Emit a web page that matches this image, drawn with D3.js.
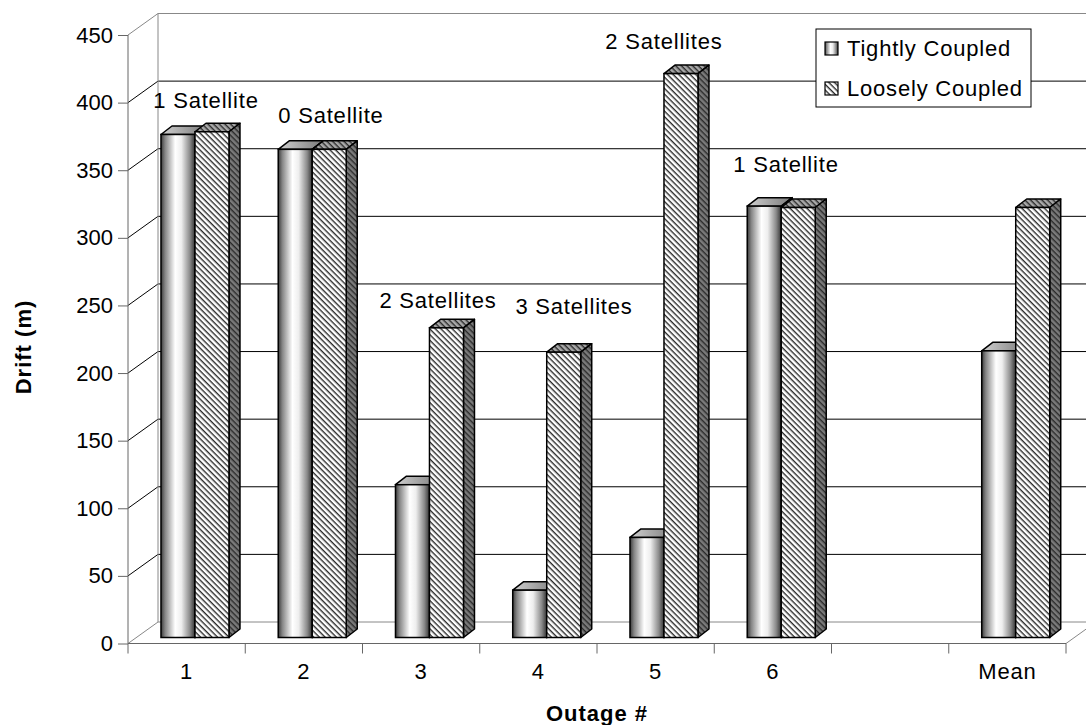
<!DOCTYPE html>
<html>
<head>
<meta charset="utf-8">
<script src="https://cdn.jsdelivr.net/npm/d3@7"></script>
<style>
  body { margin: 0; background: #fff; }
  text { font-family: "Liberation Sans", Arial, sans-serif; fill: #000; }
</style>
</head>
<body>
<svg id="chart" width="1086" height="725"></svg>
<script>
// data
const categories = ["1", "2", "3", "4", "5", "6", "", "Mean"];
const tightly = [372, 361, 113, 35, 74, 319, null, 212];
const loosely = [374, 361, 229, 211, 417, 318, null, 318];
const seriesNames = ["Tightly Coupled", "Loosely Coupled"];
const yTicks = [0, 50, 100, 150, 200, 250, 300, 350, 400, 450];

// satellite notes: text, position in category units, height in metres
const noteText = ["1 Satellite", "0 Satellite", "2 Satellites", "3 Satellites", "2 Satellites", "1 Satellite"];
const noteAt = [0.665, 1.731, 2.644, 3.804, 4.571, 5.612];
const noteLevel = [396, 385, 248, 244, 440, 349];

const svg = d3.select("#chart");
const W = 1086, H = 725;

const x = d3.scaleBand().domain(d3.range(categories.length)).range([128, 1066]).padding(0);
const y = d3.scaleLinear().domain([0, 450]).range([643.5, 35]);
const xPos = d3.scaleLinear().domain([0, categories.length]).range([128, 1066]);

// 3D offsets
const wall = { dx: 30, dy: -21.5 };   // back wall depth
const front = { dx: 8, dy: -6 };      // bar front face depth
const depth = { dx: 11, dy: -8.5 };   // bar thickness

const defs = svg.append("defs");

// cylinder-like shading for the tightly coupled bars
const grad = defs.append("linearGradient").attr("id", "tight").attr("x1", 0).attr("x2", 1).attr("y1", 0).attr("y2", 0);
[[0, "#3a3a3a"], [0.12, "#858585"], [0.42, "#ffffff"], [0.6, "#eeeeee"], [0.85, "#8a8a8a"], [1, "#353535"]]
  .forEach(([o, c]) => grad.append("stop").attr("offset", o).attr("stop-color", c));
const gradTop = defs.append("linearGradient").attr("id", "tightTop").attr("x1", 0).attr("x2", 1);
[[0, "#d0d0d0"], [1, "#7a7a7a"]].forEach(([o, c]) => gradTop.append("stop").attr("offset", o).attr("stop-color", c));

// diagonal hatch for the loosely coupled bars
function hatch(id, bg) {
  const p = defs.append("pattern").attr("id", id)
    .attr("patternUnits", "userSpaceOnUse").attr("width", 4).attr("height", 4)
    .attr("patternTransform", "rotate(45)");
  p.append("rect").attr("width", 4).attr("height", 4).attr("fill", bg);
  p.append("rect").attr("x", 0).attr("y", 0).attr("width", 4).attr("height", 1.4).attr("fill", "#2a2a2a");
}
hatch("hatchFront", "#ffffff");
hatch("hatchTop", "#a8a8a8");
hatch("hatchSide", "#7a7a7a");

svg.append("rect").attr("width", W).attr("height", H).attr("fill", "#fff");

const g = svg.append("g");

// walls: gridlines on the back wall and the side wall
yTicks.forEach(t => {
  const edge = t === 0 || t === 450;
  const col = edge ? "#888" : "#000";
  g.append("line")
    .attr("x1", 128 + wall.dx).attr("x2", 1066 + wall.dx)
    .attr("y1", y(t) + wall.dy).attr("y2", y(t) + wall.dy)
    .attr("stroke", col).attr("stroke-width", 1);
  g.append("line")
    .attr("x1", 128).attr("x2", 128 + wall.dx)
    .attr("y1", y(t)).attr("y2", y(t) + wall.dy)
    .attr("stroke", col).attr("stroke-width", 1);
});
g.append("line")
  .attr("x1", 128 + wall.dx).attr("x2", 128 + wall.dx)
  .attr("y1", y(450) + wall.dy).attr("y2", y(0) + wall.dy)
  .attr("stroke", "#888");
// floor right edge
g.append("line")
  .attr("x1", 1066).attr("x2", 1066 + wall.dx)
  .attr("y1", y(0)).attr("y2", y(0) + wall.dy)
  .attr("stroke", "#888");

// bars
const series = [tightly, loosely];
const fills = [
  { front: "url(#tight)", top: "url(#tightTop)", side: "#555" },
  { front: "url(#hatchFront)", top: "url(#hatchTop)", side: "url(#hatchSide)" }
];
const bw = x.bandwidth();
const barW = bw * 0.29;
const barBase = y(0) + front.dy;

categories.forEach((c, i) => {
  series.forEach((vals, s) => {
    const v = vals[i];
    if (v == null) return;
    const fx = x(i) + bw * 0.213 + s * barW + front.dx;
    const top = y(v) + front.dy;
    const bar = g.append("g");
    bar.append("polygon")
      .attr("points", [[fx, top], [fx + depth.dx, top + depth.dy], [fx + barW + depth.dx, top + depth.dy], [fx + barW, top]].join(" "))
      .attr("fill", fills[s].top).attr("stroke", "#000").attr("stroke-width", 1.5).attr("stroke-linejoin", "round");
    bar.append("polygon")
      .attr("points", [[fx + barW, top], [fx + barW + depth.dx, top + depth.dy], [fx + barW + depth.dx, barBase + depth.dy], [fx + barW, barBase]].join(" "))
      .attr("fill", fills[s].side).attr("stroke", "#000").attr("stroke-width", 1.5).attr("stroke-linejoin", "round");
    bar.append("rect")
      .attr("x", fx).attr("y", top).attr("width", barW).attr("height", barBase - top)
      .attr("fill", fills[s].front).attr("stroke", "#000").attr("stroke-width", 1.5);
  });
});

// axes
const yAxis = g.append("g")
  .attr("transform", "translate(128,0)")
  .call(d3.axisLeft(y).tickValues(yTicks).tickSize(10).tickPadding(5));
yAxis.select(".domain").attr("stroke", "#666").attr("d", `M0,${y(450)}V${y(0)}`);
yAxis.selectAll(".tick line").attr("stroke", "#666");
yAxis.selectAll(".tick text").attr("font-size", 22).attr("font-family", "Liberation Sans, Arial, sans-serif");

const xAxis = g.append("g")
  .attr("transform", `translate(0,${y(0)})`)
  .call(d3.axisBottom(x).tickSize(0).tickPadding(20).tickFormat(i => categories[i]));
xAxis.select(".domain").attr("stroke", "#666").attr("d", "M128,0H1066");
xAxis.selectAll(".tick text").attr("font-size", 22).attr("letter-spacing", "0.8px").attr("font-family", "Liberation Sans, Arial, sans-serif");
// tick marks between categories
g.append("g").selectAll("line")
  .data(d3.range(categories.length + 1))
  .join("line")
  .attr("x1", d => xPos(d)).attr("x2", d => xPos(d))
  .attr("y1", y(0)).attr("y2", y(0) + 10)
  .attr("stroke", "#666");

// satellite notes
g.append("g").selectAll("text")
  .data(noteText)
  .join("text")
  .attr("x", (d, i) => xPos(noteAt[i]))
  .attr("y", (d, i) => y(noteLevel[i]))
  .attr("text-anchor", "middle")
  .attr("font-size", 22)
  .attr("letter-spacing", "0.8px")
  .text(d => d);

// axis titles
svg.append("text")
  .attr("x", 597).attr("y", 721)
  .attr("text-anchor", "middle")
  .attr("font-size", 22).attr("font-weight", "bold").attr("letter-spacing", "1px")
  .text("Outage #");
svg.append("text")
  .attr("transform", "translate(31,347) rotate(-90)")
  .attr("text-anchor", "middle")
  .attr("font-size", 22).attr("font-weight", "bold").attr("letter-spacing", "1px")
  .text("Drift (m)");

// legend
const legend = svg.append("g").attr("transform", "translate(816,29)");
legend.append("rect").attr("width", 215).attr("height", 78)
  .attr("fill", "#fff").attr("stroke", "#000").attr("stroke-width", 1);
seriesNames.forEach((name, i) => {
  const ly = 19.5 + i * 40;
  legend.append("rect")
    .attr("x", 9).attr("y", ly - 6.5).attr("width", 13).attr("height", 13)
    .attr("fill", fills[i].front).attr("stroke", "#000").attr("stroke-width", 1.2);
  legend.append("text")
    .attr("x", 31).attr("y", ly).attr("dy", "0.35em")
    .attr("font-size", 22).attr("letter-spacing", "0.8px")
    .text(name);
});
</script>
</body>
</html>
